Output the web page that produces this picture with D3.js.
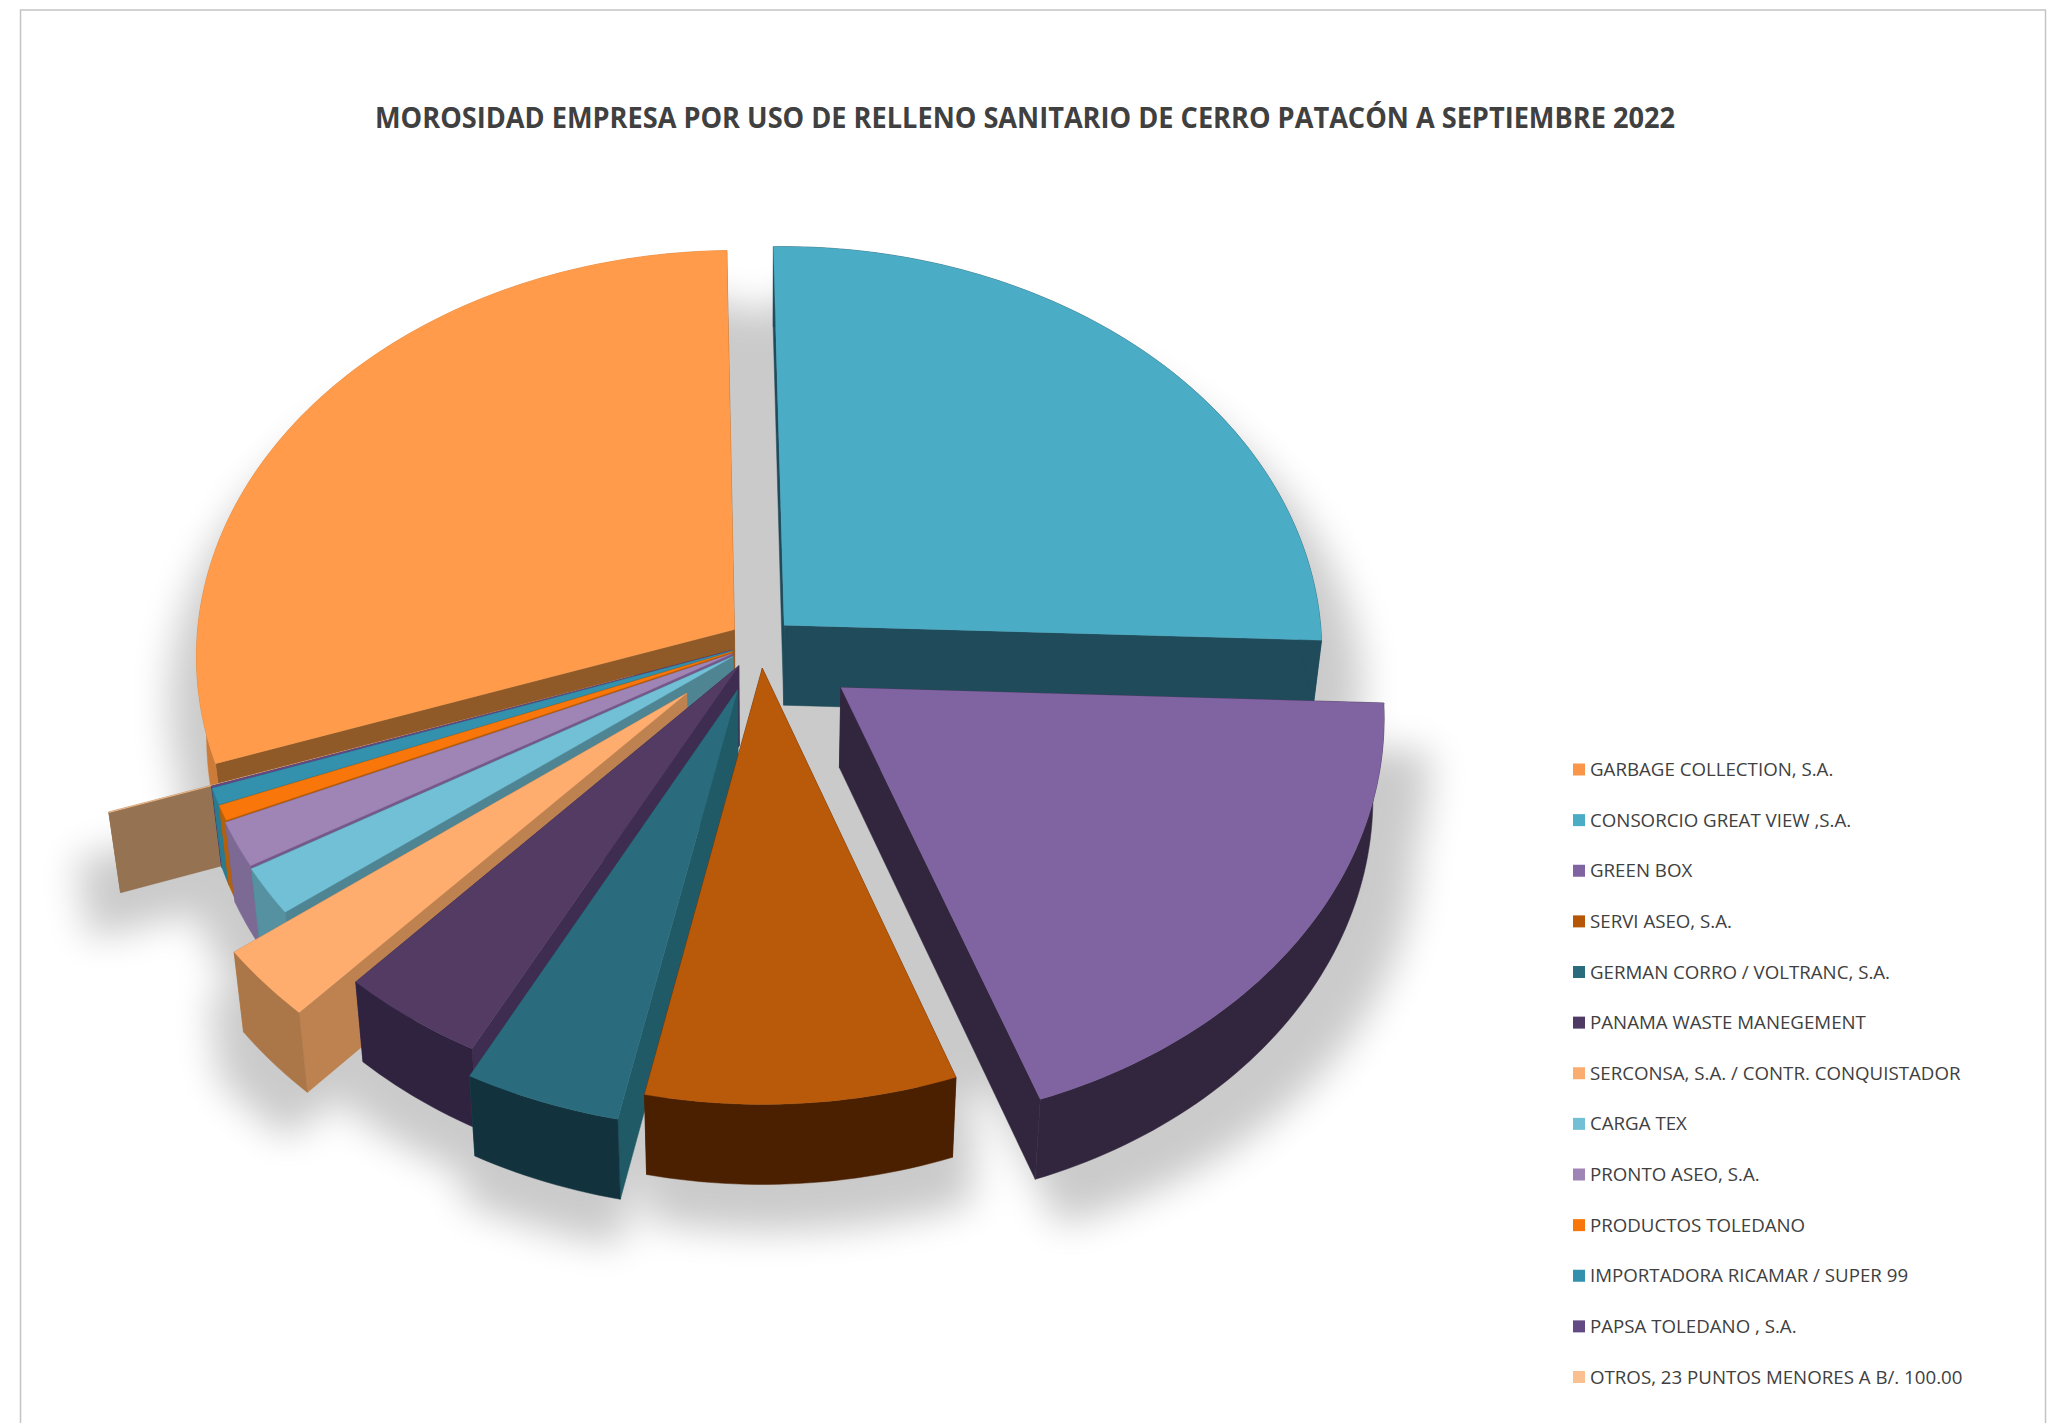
<!DOCTYPE html>
<html>
<head>
<meta charset="utf-8">
<style>
  body { margin: 0; background: #fff; }
  text { font-family: "Open Sans", sans-serif; fill: #404040; }
</style>
<script src="https://cdn.jsdelivr.net/npm/d3@7"></script>
</head>
<body>
<div id="chart"></div>
<script>
const title = 'MOROSIDAD EMPRESA POR USO DE RELLENO SANITARIO DE CERRO PATACÓN A SEPTIEMBRE 2022';

const empresas = [
  'GARBAGE COLLECTION, S.A.',
  'CONSORCIO GREAT VIEW ,S.A.',
  'GREEN BOX',
  'SERVI ASEO, S.A.',
  'GERMAN CORRO / VOLTRANC, S.A.',
  'PANAMA WASTE MANEGEMENT',
  'SERCONSA, S.A. / CONTR. CONQUISTADOR',
  'CARGA TEX',
  'PRONTO ASEO, S.A.',
  'PRODUCTOS TOLEDANO',
  'IMPORTADORA RICAMAR / SUPER 99',
  'PAPSA TOLEDANO , S.A.',
  'OTROS, 23 PUNTOS MENORES A B/. 100.00',
];
// share of the total
const morosidad = [30.0, 25.9, 18.95, 8.75, 4.4, 4.1, 2.9, 1.9, 1.8, 0.6, 0.65, 0.07, 0.03];
// how far each slice is pulled out, as a fraction of the radius
const explosion = [0.058, 0.063, 0.185, 0.062, 0.122, 0.068, 0.183, 0.06, 0.058, 0.055, 0.055, 0.055, 0.247];

const topColors = ['#ff9b4a', '#4bacc6', '#8064a2', '#b85a09', '#2a6c7d', '#533b64',
  '#ffac6f', '#72c0d5', '#9f85b5', '#f9760b', '#3491ad', '#644a84', '#f9c090'];
const sideColors = ['#8f5a28', '#1f4b5a', '#32263f', '#4a2000', '#1f5a66', '#3e2d50',
  '#bd8250', '#4f8593', '#75588a', '#b55a00', '#2a7a90', '#4d3866', '#957352'];
const rimColors = ['#cc7c38', '#1f4b5a', '#32263f', '#4a2000', '#12333d', '#2f2340',
  '#ab7648', '#5591a1', '#7c6a94', '#b5610c', '#2a7a90', '#4d3866', '#957352'];

const width = 2054;
const height = 1423;

// tilted disc: x and y are in radius units, y grows towards the viewer
const cx = 760;
const cy = 643;
const radiusX = 538;
const radiusY = 405;
const perspective = 0.064;
const depth = 80;
const depthShrink = 0.982;

const project = (x, y) => {
  const w = 1 - perspective * y;
  return [cx + radiusX * x / w, cy + radiusY * y / w];
};
const lower = (p) => [cx + (p[0] - cx) * depthShrink, p[1] + depth];

const svg = d3.select('#chart')
    .append('svg')
    .attr('width', width)
    .attr('height', height);

svg.append('rect')
    .attr('x', 20.5)
    .attr('y', 10)
    .attr('width', 2025)
    .attr('height', height)
    .attr('fill', '#fff')
    .attr('stroke', '#c4c4c4')
    .attr('stroke-width', 1.5);

svg.append('text')
    .attr('x', 1025)
    .attr('y', 118)
    .attr('dy', '0.35em')
    .attr('text-anchor', 'middle')
    .attr('font-size', 28.5)
    .attr('font-weight', 700)
    .attr('textLength', 1300)
    .attr('lengthAdjust', 'spacingAndGlyphs')
    .text(title);

const defs = svg.append('defs');
defs.append('filter')
    .attr('id', 'soft')
    .attr('x', '-20%').attr('y', '-20%')
    .attr('width', '140%').attr('height', '140%')
    .append('feGaussianBlur')
    .attr('stdDeviation', 18);

const startDeg = -109;
const arcs = d3.pie()
    .sort(null)
    .startAngle(startDeg * Math.PI / 180)
    .endAngle((360 + startDeg) * Math.PI / 180)(morosidad);

const line = d3.line();

// build the outline of each slice in screen space
const slices = arcs.map((a, i) => {
  const mid = (a.startAngle + a.endAngle) / 2;
  const ox = explosion[i] * Math.sin(mid);
  const oy = -explosion[i] * Math.cos(mid);
  const steps = Math.max(2, Math.ceil((a.endAngle - a.startAngle) / 0.02));
  const rim = d3.range(steps + 1).map((s) => {
    const t = a.startAngle + (a.endAngle - a.startAngle) * s / steps;
    return project(ox + Math.sin(t), oy - Math.cos(t));
  });
  return {i, mid, apex: project(ox, oy), rim};
});

const drawOrder = slices.slice().sort((a, b) => d3.descending(Math.cos(a.mid), Math.cos(b.mid)));

const faces = (s) => {
  const rimLow = s.rim.map(lower);
  const apexLow = lower(s.apex);
  const first = s.rim[0];
  const last = s.rim[s.rim.length - 1];
  return {
    top: [s.apex, ...s.rim],
    outer: [...s.rim, ...rimLow.slice().reverse()],
    sideA: [s.apex, first, rimLow[0], apexLow],
    sideB: [s.apex, last, rimLow[rimLow.length - 1], apexLow],
  };
};

// soft shadow under everything, the whole disc fills the gaps between slices
const shadow = svg.append('g')
    .attr('filter', 'url(#soft)')
    .attr('opacity', 0.205)
    .attr('transform', `translate(${cx + 7},${cy + 47}) scale(1.06,1.0) translate(${-cx},${-cy})`);
const wholeDisc = d3.range(0, 2 * Math.PI, 0.02).map((t) => project(Math.sin(t), -Math.cos(t)));
shadow.append('path').attr('d', line(wholeDisc) + 'Z').attr('fill', '#000');
slices.forEach((s) => {
  const f = faces(s);
  [f.top, f.outer, f.sideA, f.sideB].forEach((poly) => {
    shadow.append('path').attr('d', line(poly) + 'Z').attr('fill', '#000');
  });
});

// painter's order, back of the disc first
drawOrder.forEach((s) => {
  const f = faces(s);
  const g = svg.append('g');
  [f.sideA, f.sideB].forEach((poly) => {
    g.append('path').attr('d', line(poly) + 'Z')
        .attr('fill', sideColors[s.i])
        .attr('stroke', sideColors[s.i])
        .attr('stroke-width', 0.5);
  });
  g.append('path').attr('d', line(f.outer) + 'Z')
      .attr('fill', rimColors[s.i])
      .attr('stroke', rimColors[s.i])
      .attr('stroke-width', 0.5);
  g.append('path').attr('d', line(f.top) + 'Z')
      .attr('fill', topColors[s.i])
      .attr('stroke', topColors[s.i])
      .attr('stroke-width', 0.3);
});

// legend
const legendY = d3.scalePoint()
    .domain(empresas)
    .range([769.5, 1377]);
const legendColor = d3.scaleOrdinal()
    .domain(empresas)
    .range(['#f9964a', '#4bacc6', '#8064a2', '#b65708', '#2a6c7d', '#4f3a63',
      '#fbac6f', '#72c0d5', '#9f85b5', '#f9760b', '#3491ad', '#644a84', '#fac090']);

const legend = svg.append('g')
    .selectAll('g')
    .data(empresas)
    .join('g')
    .attr('transform', (d) => `translate(1573,${legendY(d)})`);
legend.append('rect')
    .attr('y', -6)
    .attr('width', 12)
    .attr('height', 12)
    .attr('fill', (d) => legendColor(d));
legend.append('text')
    .attr('x', 17)
    .attr('dy', '0.35em')
    .attr('font-size', 18.7)
    .text((d) => d);
</script>
</body>
</html>
